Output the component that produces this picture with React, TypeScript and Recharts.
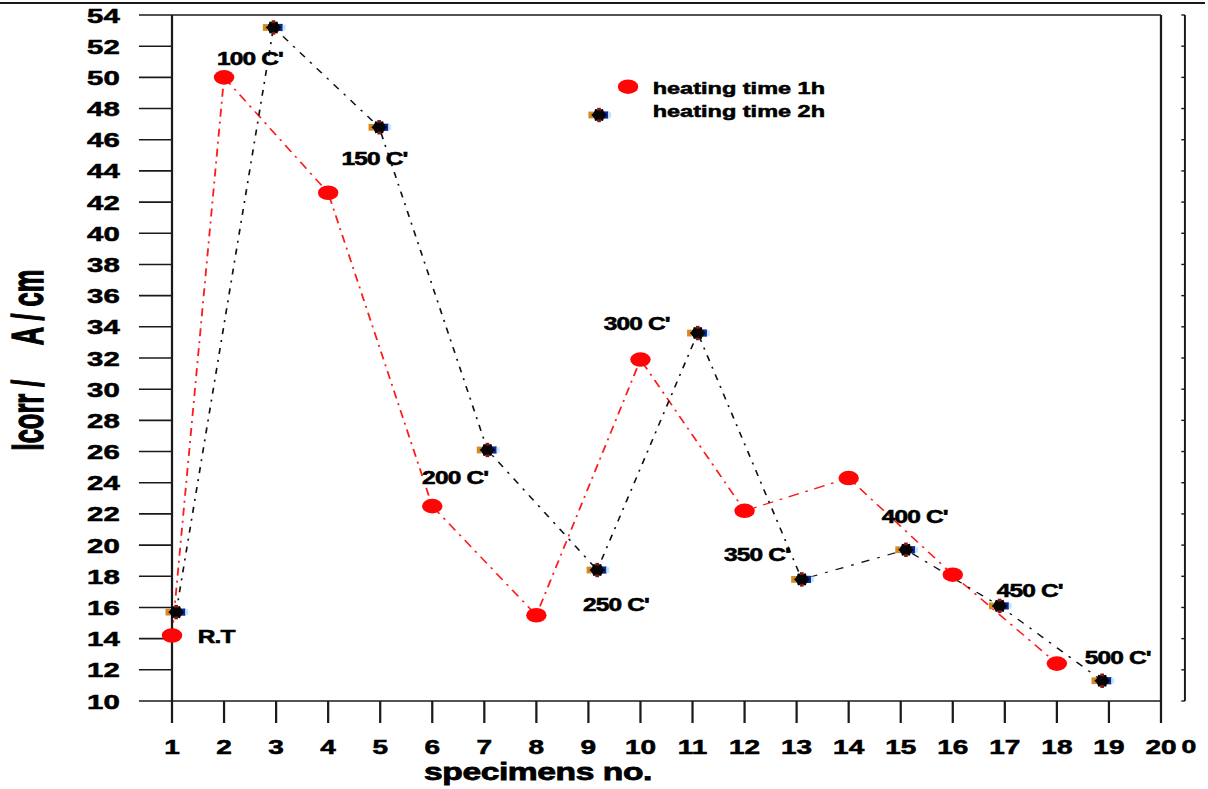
import React from 'react';
import { LineChart, Line, XAxis, YAxis, ReferenceDot, ReferenceLine, Legend } from 'recharts';

// x axis: specimen number, y axis: corrosion current
const specimenTicks = [1, 2, 3, 4, 5, 6, 7, 8, 9, 10, 11, 12, 13, 14, 15, 16, 17, 18, 19, 20];
const icorrTicks = [10, 12, 14, 16, 18, 20, 22, 24, 26, 28, 30, 32, 34, 36, 38, 40, 42, 44, 46, 48, 50, 52, 54];

// heating time 1h (red circles)
const heat1hSpecimen = [1, 2, 4, 6, 8, 10, 12, 14, 16, 18];
const heat1hIcorr = [14.2, 50.0, 42.6, 22.5, 15.5, 31.9, 22.2, 24.3, 18.1, 12.4];

// heating time 2h (black stars)
const heat2hSpecimen = [1.08, 2.95, 4.98, 7.06, 9.17, 11.1, 13.1, 15.1, 16.9, 18.87];
const heat2hIcorr = [15.7, 53.2, 46.8, 26.1, 18.4, 33.6, 17.8, 19.7, 16.1, 11.3];

// temperature notes written next to the points
const tempNames = ['R.T', "100 C'", "150 C'", "200 C'", "250 C'", "300 C'", "350 C'", "400 C'", "450 C'", "500 C'"];
const tempAtSpecimen = [1.85, 2.5, 4.89, 6.44, 9.53, 9.93, 12.24, 15.27, 17.48, 19.17];
const tempAtIcorr = [14.1, 51.2, 44.8, 24.3, 16.2, 34.2, 19.4, 21.8, 17.1, 12.8];

const heat1h = heat1hSpecimen.map((x, i) => ({ x, y: heat1hIcorr[i] }));
const heat2h = heat2hSpecimen.map((x, i) => ({ x, y: heat2hIcorr[i] }));

// the original picture is stretched sideways, so draw narrow and scale
const SX = 1.4;
const W = 1208 / SX;
const H = 789;
const FONT = '"Liberation Sans", Arial, Helvetica, sans-serif';
const INK = '#1a1a1a';
const axisStyle = { stroke: INK, strokeWidth: 1.6 };
// heavier lettering, like the original
const heavy = { fontFamily: FONT, fontWeight: 700, fill: '#000', stroke: '#000', strokeWidth: 0.55 };

const RedDot = (props: any) => {
  const { cx, cy } = props;
  if (cx == null || cy == null) return null;
  return <circle cx={cx} cy={cy} r={7.3} fill="#ff0505" />;
};

const StarDot = (props: any) => {
  const { cx, cy } = props;
  if (cx == null || cy == null) return null;
  const pts: string[] = [];
  for (let k = 0; k < 12; k++) {
    const a = (Math.PI / 6) * k;
    const r = k % 2 === 0 ? 7 : 5.2;
    pts.push(`${cx + r * 0.8 * Math.cos(a)},${cy + r * Math.sin(a)}`);
  }
  return (
    <g>
      <rect x={cx - 7.6} y={cy - 3.4} width={3.4} height={6.8} fill="#d88a22" />
      <rect x={cx + 3.4} y={cy - 3.6} width={3.2} height={7.2} fill="#0c2a9c" />
      <rect x={cx + 6.6} y={cy - 2.8} width={2} height={5.6} fill="#bfe6ff" />
      <polygon points={pts.join(' ')} fill="#050505" />
      <rect x={cx - 1.3} y={cy - 7.2} width={2.6} height={2.8} fill="#8a1515" />
      <rect x={cx - 1.3} y={cy + 4.4} width={2.6} height={2.8} fill="#8a1515" />
      <rect x={cx - 4} y={cy - 3.2} width={8} height={6.4} fill="#050505" />
    </g>
  );
};

const NoTick = () => null;

const XTick = (props: any) => {
  const { x, y, payload } = props;
  return (
    <g>
      <text x={x} y={y} dy="0.71em" textAnchor="middle" fontSize={20} {...heavy}>
        {payload.value}
      </text>
      {payload.value === 20 && (
        <text x={x + 20} y={y} dy="0.71em" textAnchor="middle" fontSize={19} {...heavy}>
          0
        </text>
      )}
    </g>
  );
};

const YTick = (props: any) => {
  const { x, y, payload } = props;
  return (
    <text x={x} y={y} dy="0.36em" textAnchor="end" fontSize={21} {...heavy}>
      {payload.value}
    </text>
  );
};

const LegendBox = () => (
  <svg width={210} height={56} style={{ overflow: 'visible' }}>
    <RedDot cx={28.6} cy={14.7} />
    <text x={46.2} y={22} fontSize={16.8} {...heavy}>
      heating time 1h
    </text>
    <StarDot cx={7.9} cy={43} />
    <text x={46.2} y={45} fontSize={16.8} {...heavy}>
      heating time 2h
    </text>
  </svg>
);

export default function App() {
  return (
    <div style={{ position: 'absolute', left: 0, top: 0, width: 1208, height: H, overflow: 'hidden', background: '#fff' }}>
      <div style={{ position: 'relative', width: W, height: H, transform: `scaleX(${SX})`, transformOrigin: '0 0' }}>
        <LineChart width={W} height={H} margin={{ top: 15, right: W - 1161 / SX, bottom: 0, left: 0 }}>
          <XAxis
            xAxisId="bottom"
            type="number"
            dataKey="x"
            domain={[1, 20]}
            ticks={specimenTicks}
            interval={0}
            height={88}
            tickSize={22}
            tickMargin={17}
            tick={<XTick />}
            axisLine={axisStyle}
            tickLine={axisStyle}
          />
          <XAxis
            xAxisId="top"
            orientation="top"
            mirror
            type="number"
            domain={[1, 20]}
            ticks={specimenTicks}
            interval={0}
            tickSize={23}
            tick={<NoTick />}
            axisLine={axisStyle}
            tickLine={axisStyle}
          />
          <YAxis
            yAxisId="left"
            type="number"
            domain={[10, 54]}
            ticks={icorrTicks}
            interval={0}
            width={172 / SX}
            tickSize={23.6}
            tickMargin={13.7}
            tick={<YTick />}
            axisLine={axisStyle}
            tickLine={axisStyle}
          />
          <YAxis
            yAxisId="right"
            orientation="right"
            mirror
            type="number"
            domain={[10, 54]}
            ticks={icorrTicks}
            interval={0}
            tickSize={24.3}
            tick={<NoTick />}
            axisLine={axisStyle}
            tickLine={axisStyle}
          />

          <ReferenceLine xAxisId="bottom" yAxisId="left" x={20.46} ifOverflow="visible" stroke={INK} strokeWidth={1.4} />
          {icorrTicks.map((t) => (
            <ReferenceLine
              key={'rt' + t}
              xAxisId="bottom"
              yAxisId="left"
              ifOverflow="visible"
              segment={[{ x: 20.39, y: t }, { x: 20.46, y: t }]}
              stroke={INK}
              strokeWidth={1.4}
            />
          ))}

          <Line
            xAxisId="bottom"
            yAxisId="left"
            data={heat1h}
            dataKey="y"
            type="linear"
            stroke="#ff1a1a"
            strokeWidth={1.3}
            strokeDasharray="8 5 2 5"
            dot={<RedDot />}
            activeDot={false}
            isAnimationActive={false}
          />
          <Line
            xAxisId="bottom"
            yAxisId="left"
            data={heat2h}
            dataKey="y"
            type="linear"
            stroke="#111"
            strokeWidth={1.2}
            strokeDasharray="6 6 2 6"
            dot={<StarDot />}
            activeDot={false}
            isAnimationActive={false}
          />

          {tempNames.map((name, i) => (
            <ReferenceDot
              key={name}
              xAxisId="bottom"
              yAxisId="left"
              x={tempAtSpecimen[i]}
              y={tempAtIcorr[i]}
              r={0}
              ifOverflow="visible"
              shape={(p: any) => (
                <text x={p.cx} y={p.cy} dy="0.36em" textAnchor="middle" fontSize={17.5} letterSpacing={-0.6} {...heavy}>
                  {name}
                </text>
              )}
            />
          ))}

          <Legend
            layout="vertical"
            verticalAlign="middle"
            align="center"
            wrapperStyle={{ left: 420, top: 72, width: 210, height: 56 }}
            content={() => <LegendBox />}
          />
        </LineChart>

        <svg width={W} height={H} style={{ position: 'absolute', left: 0, top: 0, pointerEvents: 'none' }}>
          <line x1={0} y1={3} x2={1205 / SX} y2={3} stroke={INK} strokeWidth={2.2} />
          <text
            transform={`translate(${43 / SX}, 360) scale(1.25, 1) rotate(-90)`}
            textAnchor="middle"
            fontSize={25.5}
            style={{ whiteSpace: 'pre' }}
            {...heavy}
            strokeWidth={0.8}
          >
            {'Icorr /     A / cm'}
          </text>
          <text x={538 / SX} y={780} textAnchor="middle" fontSize={24} letterSpacing={-0.3} {...heavy} strokeWidth={0.8}>
            specimens no.
          </text>
        </svg>
      </div>
    </div>
  );
}
